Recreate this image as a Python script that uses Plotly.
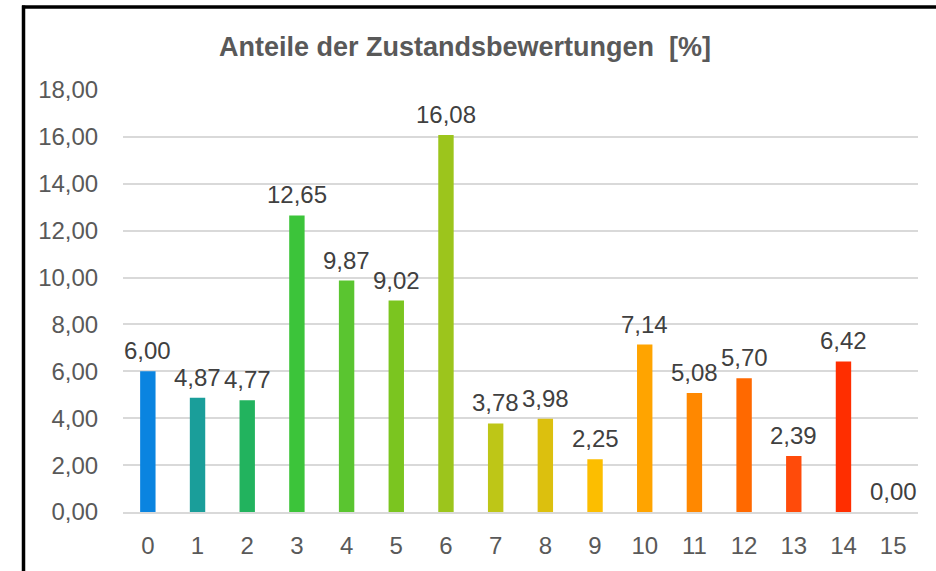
import plotly.graph_objects as go

categories = [str(i) for i in range(16)]
values = [6.00, 4.87, 4.77, 12.65, 9.87, 9.02, 16.08, 3.78, 3.98, 2.25, 7.14, 5.08, 5.70, 2.39, 6.42, 0.00]
colors = ["#0a84e0", "#1a9e9a", "#22b35e", "#3cc43a", "#5ac530", "#7bc520", "#9cc51c", "#bec617",
          "#dcc00e", "#fcbe00", "#ffa400", "#ff8800", "#ff6900", "#ff4b0a", "#ff2e00", "#ff2000"]
y_ticks = [0, 2, 4, 6, 8, 10, 12, 14, 16, 18]
title = "Anteile der Zustandsbewertungen\u00a0\u00a0[%]"

W, H = 936, 571
L, R, T, B = 123, 918, 90, 514  # plot area in pixels

def px_x(p):
    return (p - L) / (R - L)

def px_y(p):
    return (B - p) / (B - T)

FONT = "Liberation Sans, Arial, sans-serif"

def fmt(v):
    return f"{v:.2f}".replace(".", ",")

fig = go.Figure()
fig.add_trace(go.Bar(
    x=categories, y=values, marker=dict(color=colors, line=dict(width=0)),
    width=0.31, hoverinfo="x+y",
))

for c, v in zip(categories, values):
    fig.add_annotation(x=c, y=v, text=fmt(v), showarrow=False, yanchor="bottom",
                       yshift=5, font=dict(family=FONT, size=24, color="#404040"))

fig.update_layout(
    width=W, height=H,
    margin=dict(l=L, r=W - R, t=T, b=H - B, pad=0),
    paper_bgcolor="white", plot_bgcolor="white",
    showlegend=False,
    title=dict(text=f"<b>{title}</b>", x=465 / W, xref="container", xanchor="center",
               y=1 - 47 / H, yref="container", yanchor="middle",
               font=dict(family=FONT, size=27, color="#595959")),
    font=dict(family=FONT, size=24, color="#595959"),
    xaxis=dict(type="category", showgrid=False, showline=True, linecolor="#d9d9d9", linewidth=1.5,
               ticks="outside", ticklen=11, tickcolor="rgba(0,0,0,0)",
               tickfont=dict(family=FONT, size=24, color="#595959"), zeroline=False,
               range=[-0.5, 15.5]),
    yaxis=dict(range=[0, 18], tickvals=y_ticks, ticktext=[fmt(t) for t in y_ticks],
               showgrid=True, gridcolor="#d9d9d9", gridwidth=1.5, zeroline=False,
               ticks="outside", ticklen=19, tickcolor="rgba(0,0,0,0)",
               tickfont=dict(family=FONT, size=24, color="#595959"), showline=False),
    shapes=[
        dict(type="line", xref="paper", yref="paper", x0=px_x(22), x1=px_x(W + 10),
             y0=px_y(6.5), y1=px_y(6.5), line=dict(color="black", width=3.5)),
        dict(type="line", xref="paper", yref="paper", x0=px_x(23.5), x1=px_x(23.5),
             y0=px_y(5), y1=px_y(H + 10), line=dict(color="black", width=3.5)),
    ],
)

fig.write_html("out.html", config={"displayModeBar": False},
               post_script="document.body.style.margin='0';document.body.style.overflow='hidden';")
